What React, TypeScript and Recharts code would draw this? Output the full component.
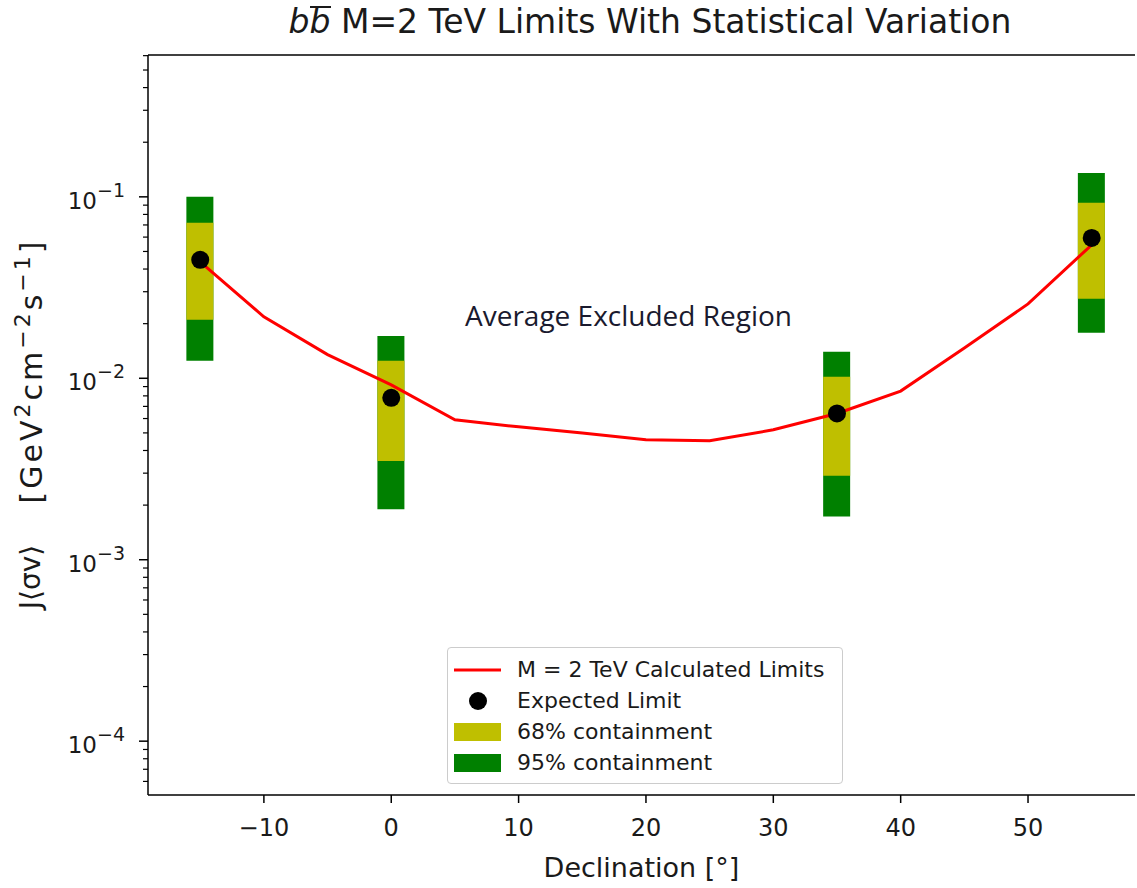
import React from 'react';
import {
  ComposedChart,
  Bar,
  Line,
  Scatter,
  XAxis,
  YAxis,
  Legend,
  Label,
  ReferenceLine,
} from 'recharts';

// declination grid of the calculated limit curve
const declinations = [-15, -10, -5, 0, 5, 10, 15, 20, 25, 30, 35, 40, 45, 50, 55];
const calculatedLimits = [
  0.0438, 0.0218, 0.0135, 0.0092, 0.0059, 0.0054, 0.005, 0.00458, 0.00453, 0.0052,
  0.0064, 0.0085, 0.0147, 0.0257, 0.0544,
];

// sources with statistical variation
const sourceDecs = [-15, 0, 35, 55];
const expectedLimits = [0.045, 0.0078, 0.0064, 0.0594];
const band68Low = [0.021, 0.0035, 0.0029, 0.0274];
const band68High = [0.072, 0.0125, 0.0102, 0.0927];
const band95Low = [0.0125, 0.0019, 0.00173, 0.0178];
const band95High = [0.1, 0.0171, 0.014, 0.1355];

const xTicks = [-10, 0, 10, 20, 30, 40, 50];
const yMajorTicks = [1e-4, 1e-3, 1e-2, 1e-1];
const yMinorMults = [2, 3, 4, 5, 6, 7, 8, 9];
const Y_MIN = 5.05e-5;
const Y_MAX = 0.605;
const X_MIN = -19.1;
const X_MAX = 58.4;

const yMinorTicks = [1e-5, ...yMajorTicks]
  .flatMap((d) => yMinorMults.map((m) => +(d * m).toPrecision(3)))
  .filter((v) => v > Y_MIN && v < Y_MAX);
const yTicks = [...yMajorTicks, ...yMinorTicks].sort((a, b) => a - b);

const rows = declinations.map((dec, i) => {
  const k = sourceDecs.indexOf(dec);
  return {
    dec,
    limit: calculatedLimits[i],
    band95: k >= 0 ? [band95Low[k], band95High[k]] : null,
    band68: k >= 0 ? [band68Low[k], band68High[k]] : null,
  };
});
const expectedRows = sourceDecs.map((dec, i) => ({ dec, expected: expectedLimits[i] }));

const FONT = '"DejaVu Sans", sans-serif';
const YELLOW = '#bfbf00';
const GREEN = '#008000';
const TXT = '#1a1a1a';

function XTick({ x, y, payload }: any) {
  const v = payload.value;
  return (
    <g>
      <line x1={x} y1={y} x2={x} y2={y + 8} stroke="#000" strokeWidth={1.5} />
      <text x={x} y={y + 41} textAnchor="middle" fontSize={24} fontFamily={FONT} fill={TXT}>
        {String(v).replace('-', '\u2212')}
      </text>
    </g>
  );
}

function YTick({ x, y, payload }: any) {
  const v = payload.value;
  const exp = Math.round(Math.log10(v));
  const major = Math.abs(Math.log10(v) - exp) < 1e-6;
  if (!major) {
    return <line x1={x - 5} y1={y} x2={x} y2={y} stroke="#000" strokeWidth={1.2} />;
  }
  return (
    <g>
      <line x1={x - 9} y1={y} x2={x} y2={y} stroke="#000" strokeWidth={1.5} />
      <text x={x - 23} y={y + 12} textAnchor="end" fontSize={23} fontFamily={FONT} fill={TXT}>
        <tspan>10</tspan>
        <tspan dy={-12} fontSize={19}>{'\u2212' + Math.abs(exp)}</tspan>
      </text>
    </g>
  );
}

function YLabel() {
  const cx = 40;
  const jy = 577;
  const uy = 371;
  return (
    <g fontFamily={FONT} fill={TXT}>
      <text x={cx} y={jy} transform={`rotate(-90 ${cx} ${jy})`} textAnchor="middle" fontSize={28}>
        {'J\u27E8\u03C3v\u27E9'}
      </text>
      <text
        x={cx + 2}
        y={uy}
        transform={`rotate(-90 ${cx + 2} ${uy})`}
        textAnchor="middle"
        fontSize={30}
        letterSpacing={3}
      >
        <tspan>[GeV</tspan>
        <tspan dy={-12} fontSize={22}>2</tspan>
        <tspan dy={12}>cm</tspan>
        <tspan dy={-12} fontSize={22}>{'\u22122'}</tspan>
        <tspan dy={12}>s</tspan>
        <tspan dy={-12} fontSize={22}>{'\u22121'}</tspan>
        <tspan dy={12}>]</tspan>
      </text>
    </g>
  );
}

function LegendBox() {
  const rowsL = [
    { label: 'M = 2 TeV Calculated Limits', kind: 'line' },
    { label: 'Expected Limit', kind: 'dot' },
    { label: '68% containment', kind: 'y' },
    { label: '95% containment', kind: 'g' },
  ];
  return (
    <div
      style={{
        width: 396,
        height: 137,
        boxSizing: 'border-box',
        border: '1px solid #cccccc',
        borderRadius: 4,
        background: 'rgba(255,255,255,0.8)',
        paddingTop: 6,
        fontFamily: FONT,
        fontSize: 22,
        color: TXT,
      }}
    >
      {rowsL.map((r) => (
        <div key={r.label} style={{ display: 'flex', alignItems: 'center', height: 31 }}>
          <svg width={68} height={31} style={{ flex: 'none' }}>
            {r.kind === 'line' && <line x1={6} y1={16} x2={53} y2={16} stroke="#ff0000" strokeWidth={3} />}
            {r.kind === 'dot' && <circle cx={30} cy={16} r={9} fill="#000" />}
            {r.kind === 'y' && <rect x={6} y={7} width={47} height={18} fill={YELLOW} />}
            {r.kind === 'g' && <rect x={6} y={7} width={47} height={18} fill={GREEN} />}
          </svg>
          <span style={{ marginLeft: 1 }}>{r.label}</span>
        </div>
      ))}
    </div>
  );
}

export default function App() {
  return (
    <div style={{ position: 'absolute', left: 0, top: 0, width: 1137, height: 888, background: '#fff' }}>
      <div
        style={{
          position: 'absolute',
          left: 0,
          top: 2,
          width: 1300,
          textAlign: 'center',
          fontFamily: FONT,
          fontSize: 33,
          lineHeight: '40px',
          color: TXT,
          whiteSpace: 'nowrap',
        }}
      >
        <span style={{ fontStyle: 'italic' }}>
          b
          <span
            style={{
              display: 'inline-block',
              borderTop: '2px solid ' + TXT,
              lineHeight: '27px',
            }}
          >
            b
          </span>
        </span>{' '}
        M=2 TeV Limits With Statistical Variation
      </div>
      <div
        style={{
          position: 'absolute',
          left: 465,
          top: 296,
          fontFamily: '"Open Sans", sans-serif',
          fontSize: 28,
          color: '#1a1a2e',
          whiteSpace: 'nowrap',
        }}
      >
        Average Excluded Region
      </div>
      <ComposedChart
        width={1137}
        height={888}
        data={rows}
        margin={{ top: 55, right: 2, bottom: 0, left: 0 }}
        barGap={-27}
      >
        <XAxis
          dataKey="dec"
          type="number"
          domain={[X_MIN, X_MAX]}
          allowDataOverflow
          ticks={xTicks}
          interval={0}
          height={93}
          tickSize={0}
          tickMargin={0}
          tickLine={false}
          tick={<XTick />}
          axisLine={{ stroke: '#000', strokeWidth: 1.5 }}
        >
          <Label
            value="Declination [°]"
            position="insideBottom"
            offset={11}
            style={{ fontSize: 27, fontFamily: FONT, fill: TXT }}
          />
        </XAxis>
        <YAxis
          type="number"
          scale="log"
          domain={[Y_MIN, Y_MAX]}
          allowDataOverflow
          ticks={yTicks}
          interval={0}
          width={148}
          tickSize={0}
          tickMargin={0}
          tickLine={false}
          tick={<YTick />}
          axisLine={{ stroke: '#000', strokeWidth: 1.5 }}
        >
          <Label content={<YLabel />} />
        </YAxis>
        <ReferenceLine y={Y_MAX} stroke="#000" strokeWidth={1.5} />
        <Bar dataKey="band95" fill={GREEN} barSize={27} isAnimationActive={false} />
        <Bar dataKey="band68" fill={YELLOW} barSize={27} isAnimationActive={false} />
        <Line
          dataKey="limit"
          type="linear"
          stroke="#ff0000"
          strokeWidth={3}
          dot={false}
          activeDot={false}
          isAnimationActive={false}
        />
        <Scatter
          data={expectedRows}
          dataKey="expected"
          fill="#000"
          shape={(p: any) => <circle cx={p.cx} cy={p.cy} r={9} fill="#000" />}
          isAnimationActive={false}
        />
        <Legend
          verticalAlign="middle"
          layout="horizontal"
          content={<LegendBox />}
          wrapperStyle={{ position: 'absolute', left: 447, top: 647, width: 396, bottom: 'auto' }}
        />
      </ComposedChart>
    </div>
  );
}
